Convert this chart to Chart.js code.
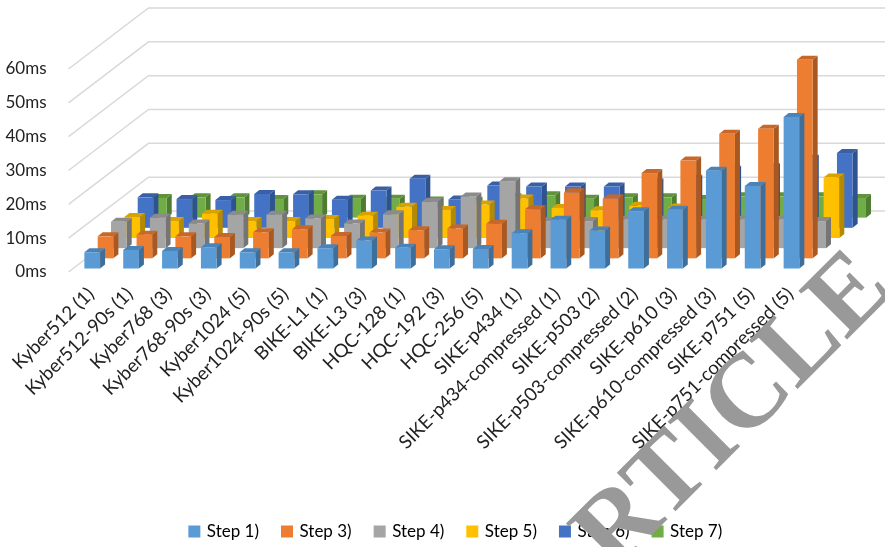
<!DOCTYPE html>
<html>
<head>
<meta charset="utf-8">
<title>Handshake step timings</title>
<script src="https://cdn.jsdelivr.net/npm/chart.js@4/dist/chart.umd.min.js"></script>
<style>
  html, body { margin: 0; padding: 0; background: #fff; overflow: hidden; }
  #wrap { position: relative; width: 885px; height: 547px; }
</style>
</head>
<body>
<div id="wrap"><canvas id="timings"></canvas></div>
<script>
const schemes = [
  'Kyber512 (1)', 'Kyber512-90s (1)', 'Kyber768 (3)', 'Kyber768-90s (3)', 'Kyber1024 (5)',
  'Kyber1024-90s (5)', 'BIKE-L1 (1)', 'BIKE-L3 (3)', 'HQC-128 (1)', 'HQC-192 (3)', 'HQC-256 (5)',
  'SIKE-p434 (1)', 'SIKE-p434-compressed (1)', 'SIKE-p503 (2)', 'SIKE-p503-compressed (2)',
  'SIKE-p610 (3)', 'SIKE-p610-compressed (3)', 'SIKE-p751 (5)', 'SIKE-p751-compressed (5)'
];

// milliseconds per handshake step
const step1 = [4.8, 5.5, 5.2, 6.3, 4.8, 4.8, 6.0, 8.3, 6.1, 5.7, 5.8, 10.4, 14.4, 11.2, 16.9, 17.4, 28.9, 24.4, 44.8];
const step3 = [6.5, 7.0, 6.5, 6.3, 7.7, 8.6, 6.6, 7.6, 8.3, 8.8, 10.2, 14.5, 19.5, 17.7, 25.2, 28.9, 36.8, 38.3, 58.7];
const step4 = [7.8, 9.0, 7.3, 9.9, 9.9, 8.8, 7.3, 10.0, 13.7, 15.3, 19.8, 8.0, 8.0, 8.4, 8.4, 8.4, 8.4, 8.4, 8.0];
const step5 = [6.2, 5.0, 7.2, 5.0, 5.0, 5.6, 6.6, 9.2, 8.3, 9.9, 11.7, 8.9, 8.2, 9.5, 9.0, 11.0, 15.0, 13.0, 17.9];
const step6 = [9.0, 8.5, 8.2, 10.0, 9.9, 8.3, 11.0, 14.5, 8.4, 12.5, 12.2, 12.2, 12.2, 13.4, 14.5, 17.2, 17.9, 20.4, 22.1];
const step7 = [5.8, 6.0, 6.0, 5.5, 6.9, 5.6, 5.6, 5.1, 5.0, 6.0, 6.6, 5.6, 6.0, 6.0, 5.5, 6.3, 6.3, 6.3, 5.8];

const stepNames = ['Step 1)', 'Step 3)', 'Step 4)', 'Step 5)', 'Step 6)', 'Step 7)'];
const stepValues = [step1, step3, step4, step5, step6, step7];
const stepColors = ['#5B9BD5', '#ED7D31', '#A5A5A5', '#FFC000', '#4472C4', '#70AD47'];
const stepSides = ['#3E6F9B', '#A85820', '#757575', '#B58900', '#2F5290', '#4E7C31'];
const stepTops = ['#4A83B7', '#C7682A', '#8B8B8B', '#D8A300', '#3960A6', '#5F933C'];

// oblique projection: how far one row of bars moves back, and the depth of one bar
const ROW_DX = 13.33, ROW_DY = 10.17;
const INSET_DX = 4.3, INSET_DY = 3.5;
const BAR_DX = 5, BAR_DY = 4;

// bar controller that paints each bar as a box, one row deeper per dataset
class Bar3DController extends Chart.BarController {
  draw() {
    const ctx = this.chart.ctx;
    const row = this.index;
    const ox = row * ROW_DX + INSET_DX;
    const oy = row * ROW_DY + INSET_DY;
    this.getMeta().data.forEach(bar => {
      const l = bar.x - bar.width / 2 + ox;
      const r = bar.x + bar.width / 2 + ox;
      const t = bar.y - oy;
      const b = bar.base - oy;

      ctx.fillStyle = stepSides[row];
      ctx.beginPath();
      ctx.moveTo(r, t);
      ctx.lineTo(r + BAR_DX, t - BAR_DY);
      ctx.lineTo(r + BAR_DX, b - BAR_DY);
      ctx.lineTo(r, b);
      ctx.closePath();
      ctx.fill();

      ctx.fillStyle = stepTops[row];
      ctx.beginPath();
      ctx.moveTo(l, t);
      ctx.lineTo(l + BAR_DX, t - BAR_DY);
      ctx.lineTo(r + BAR_DX, t - BAR_DY);
      ctx.lineTo(r, t);
      ctx.closePath();
      ctx.fill();

      ctx.fillStyle = stepColors[row];
      ctx.fillRect(l, t, r - l, b - t);
    });
  }
}
Bar3DController.id = 'bar3d';
Bar3DController.defaults = Chart.BarController.defaults;
Chart.register(Bar3DController);

// side and back walls of the box, drawn under the bars
const wallGrid = {
  id: 'wallGrid',
  beforeDatasetsDraw(chart) {
    const ctx = chart.ctx;
    const { left } = chart.chartArea;
    const depthX = ROW_DX * stepNames.length;
    const depthY = ROW_DY * stepNames.length;
    ctx.save();
    ctx.strokeStyle = '#D9D9D9';
    ctx.lineWidth = 1.5;
    chart.scales.y.ticks.forEach(tick => {
      const y = chart.scales.y.getPixelForValue(tick.value);
      ctx.beginPath();
      ctx.moveTo(left, y);
      ctx.lineTo(left + depthX, y - depthY);
      ctx.lineTo(chart.width, y - depthY);
      ctx.stroke();
    });
    ctx.restore();
  }
};

// the legend is centred under the whole page, not under the axis width
const legendShift = {
  id: 'legendShift',
  afterLayout(chart) { chart.legend.left += 106; }
};

// diagonal stamp over everything, running off the bottom and right edges
const stamp = {
  id: 'stamp',
  afterDraw(chart) {
    const ctx = chart.ctx;
    ctx.save();
    ctx.translate(895.3, 291.3);
    ctx.rotate(-Math.PI / 4);
    ctx.font = 'bold 105px "Liberation Serif"';
    ctx.fillStyle = '#999999';
    ctx.textAlign = 'right';
    ctx.textBaseline = 'alphabetic';
    ctx.fillText('RTICLE', 0, 0);
    ctx.restore();
  }
};

const axisFont = { family: 'Lato', size: 17 };
const labelFont = { family: 'Lato', size: 18.7 };

new Chart(document.getElementById('timings'), {
  type: 'bar3d',
  data: {
    labels: schemes,
    datasets: stepNames.map((name, i) => ({
      label: name,
      data: stepValues[i],
      backgroundColor: stepColors[i],
      clip: false
    }))
  },
  options: {
    responsive: true,
    maintainAspectRatio: false,
    animation: false,
    grouped: false,
    categoryPercentage: 0.404,
    barPercentage: 1,
    layout: { padding: { top: 69, right: 78.4, left: 0, bottom: -3 } },
    scales: {
      x: {
        grid: { display: false },
        border: { display: false },
        afterFit(scale) { scale.height = 227; },
        ticks: {
          autoSkip: false,
          minRotation: 45,
          maxRotation: 45,
          padding: 3,
          labelOffset: 3,
          color: '#222222',
          font: labelFont
        }
      },
      y: {
        min: 0,
        max: 60,
        grid: { display: false },
        border: { display: false },
        afterFit(scale) { scale.width = 68.5; },
        ticks: {
          stepSize: 10,
          padding: 14,
          color: '#222222',
          font: axisFont,
          callback: value => value + 'ms'
        }
      }
    },
    plugins: {
      tooltip: { enabled: false },
      legend: {
        position: 'bottom',
        labels: {
          font: { family: 'Lato', size: 17 },
          color: '#222222',
          boxWidth: 8,
          boxHeight: 8,
          padding: 24,
          generateLabels: () => stepNames.map((name, i) => ({
            text: name,
            fillStyle: stepColors[i],
            strokeStyle: stepColors[i],
            lineWidth: 4,
            datasetIndex: i
          }))
        }
      }
    }
  },
  plugins: [wallGrid, legendShift, stamp]
});
</script>
</body>
</html>
